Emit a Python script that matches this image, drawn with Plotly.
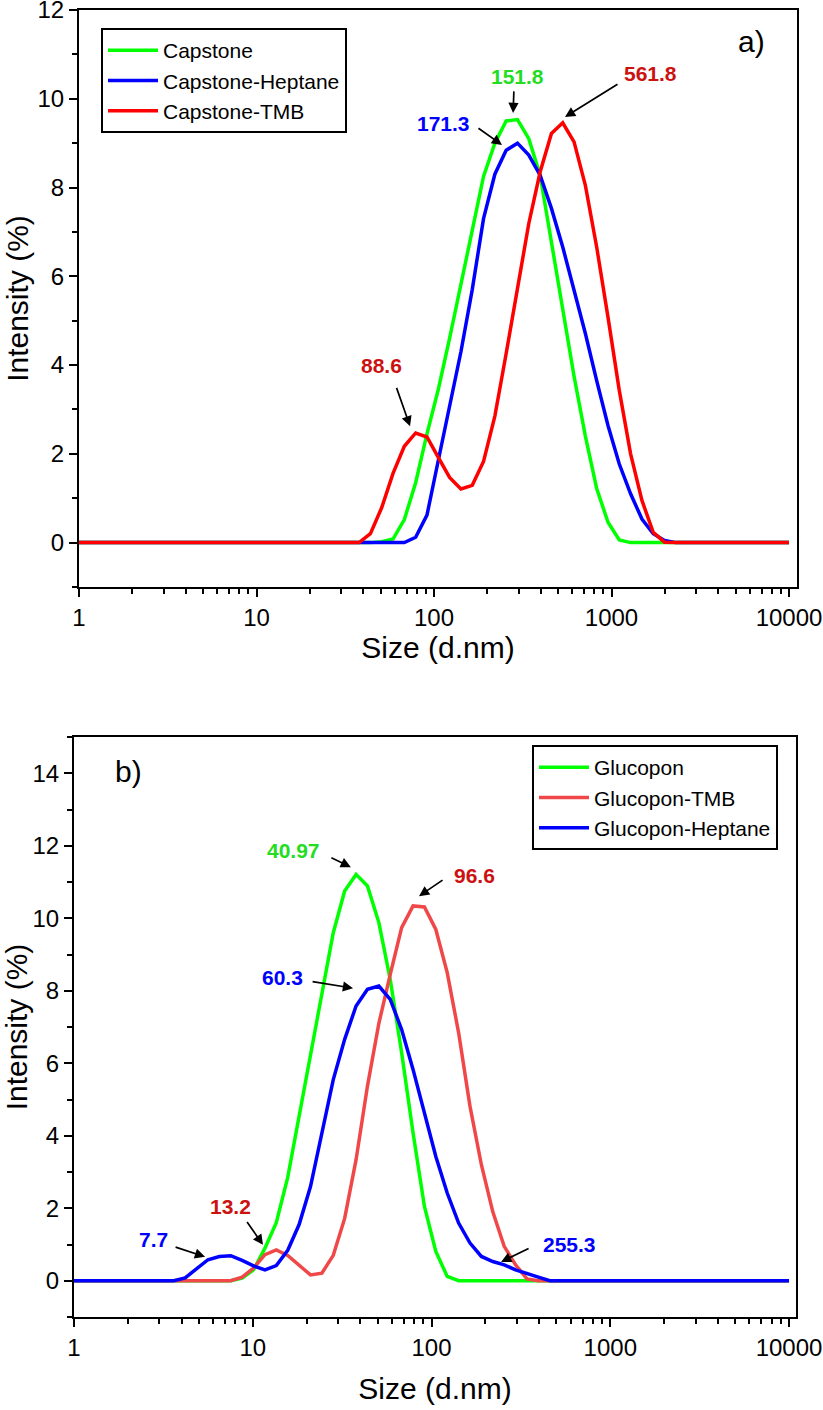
import numpy as np
import plotly.graph_objects as go

# DLS size classes (d.nm), Zetasizer bins
size_nm = [0.4, 0.4632, 0.5365, 0.6213, 0.7195, 0.8332, 0.9649, 1.117, 1.294, 1.499,
           1.736, 2.01, 2.328, 2.696, 3.122, 3.615, 4.187, 4.849, 5.615, 6.503,
           7.531, 8.721, 10.1, 11.7, 13.54, 15.69, 18.17, 21.04, 24.36, 28.21,
           32.67, 37.84, 43.82, 50.75, 58.77, 68.06, 78.82, 91.28, 105.7, 122.4,
           141.8, 164.2, 190.1, 220.2, 255.0, 295.3, 342.0, 396.1, 458.7, 531.2,
           615.1, 712.4, 825.0, 955.4, 1106, 1281, 1484, 1718, 1990, 2305,
           2669, 3091, 3580, 4145, 4801, 5560, 6439, 7456, 8635, 10000]

# panel a) intensity (%)
capstone = [0] * 33 + [0.02, 0.08, 0.52, 1.35, 2.45, 3.45, 4.6, 5.85, 7.05, 8.25, 9.0,
                       9.5, 9.53, 9.1, 8.28, 6.8, 5.25, 3.75, 2.4, 1.22, 0.46, 0.06] + [0] * 15
capstone_heptane = [0] * 35 + [0.0, 0.12, 0.62, 1.85, 3.05, 4.3, 5.7, 7.3, 8.3, 8.84, 9.0,
                               8.73, 8.28, 7.53, 6.66, 5.69, 4.71, 3.65, 2.64, 1.77, 1.1,
                               0.53, 0.2, 0.05] + [0] * 11
capstone_tmb = [0] * 32 + [0.2, 0.79, 1.56, 2.17, 2.47, 2.38, 1.92, 1.47, 1.21, 1.29, 1.83,
                           2.85, 4.26, 5.76, 7.19, 8.35, 9.22, 9.46, 9.03, 8.05, 6.66, 5.08,
                           3.43, 2.0, 0.95, 0.23, 0.01] + [0] * 11

# panel b) intensity (%)
glucopon = [0] * 21 + [0.07, 0.3, 0.9, 1.6, 2.85, 4.54, 6.29, 7.95, 9.6, 10.75, 11.21,
                       10.89, 9.88, 8.31, 6.29, 4.08, 2.05, 0.81, 0.12] + [0] * 30
glucopon_tmb = [0] * 21 + [0.1, 0.35, 0.72, 0.85, 0.7, 0.42, 0.16, 0.21, 0.7, 1.72, 3.34,
                           5.37, 7.1, 8.45, 9.74, 10.34, 10.31, 9.69, 8.5, 6.84, 4.81, 3.2,
                           1.9, 0.95, 0.44, 0.05] + [0] * 23
glucopon_heptane = [0] * 16 + [0.08, 0.33, 0.58, 0.67, 0.69, 0.56, 0.41, 0.3, 0.42, 0.84,
                               1.55, 2.6, 4.05, 5.55, 6.66, 7.58, 8.04, 8.13, 7.76, 6.93,
                               5.83, 4.63, 3.43, 2.42, 1.59, 1.04, 0.67, 0.53, 0.44, 0.3,
                               0.19, 0.1] + [0] * 22

x_tickvals = [1, 10, 100, 1000, 10000]
x_ticktext = ["1", "10", "100", "1000", "10000"]
y_ticks_a = [0, 2, 4, 6, 8, 10, 12]
y_ticks_b = [0, 2, 4, 6, 8, 10, 12, 14]

# peak labels: text, colour, text pos, arrow tail, arrow head (size nm, intensity %)
labels_a = [
    ("151.8", "#22DD22", (297, 10.51), (282, 10.2), (279, 9.68)),
    ("561.8", "#CC1111", (1648, 10.56), (1102, 10.35), (547, 9.59)),
    ("171.3", "#0000FF", (112.4, 9.45), (174.6, 9.36), (241.5, 8.96)),
    ("88.6", "#CC1111", (50.3, 3.99), (61.1, 3.52), (73.3, 2.62)),
]
labels_b = [
    ("40.97", "#22DD22", (16.8, 11.88), (27.0, 11.69), (35.4, 11.41)),
    ("96.6", "#CC1111", (175, 11.19), (117.5, 11.08), (85.1, 10.61)),
    ("60.3", "#0000FF", (14.6, 8.37), (21.2, 8.26), (36.4, 8.07)),
    ("13.2", "#CC1111", (7.55, 2.04), (9.17, 1.66), (11.41, 0.99)),
    ("7.7", "#0000FF", (2.80, 1.13), (3.63, 0.94), (5.41, 0.66)),
    ("255.3", "#0000FF", (588, 0.99), (356, 0.91), (245, 0.52)),
]

FONT = "Liberation Sans, Arial, sans-serif"
W, H = 823, 1410

fig = go.Figure()

series_a = [("Capstone", capstone, "#00FF00"),
            ("Capstone-Heptane", capstone_heptane, "#0000FF"),
            ("Capstone-TMB", capstone_tmb, "#FF0000")]
for name, vals, color in series_a:
    fig.add_trace(go.Scatter(x=size_nm, y=vals, name=name, mode="lines",
                             line=dict(color=color, width=3.5),
                             xaxis="x", yaxis="y", legend="legend"))

series_b = [("Glucopon", glucopon, "#00FF00"),
            ("Glucopon-TMB", glucopon_tmb, "#F04848"),
            ("Glucopon-Heptane", glucopon_heptane, "#0000FF")]
for name, vals, color in series_b:
    fig.add_trace(go.Scatter(x=size_nm, y=vals, name=name, mode="lines",
                             line=dict(color=color, width=3.5),
                             xaxis="x2", yaxis="y2", legend="legend2"))


def peak_notes(labels, xref, yref):
    notes = []
    for text, color, pos, tail, head in labels:
        notes.append(dict(x=np.log10(pos[0]), y=pos[1], xref=xref, yref=yref, text=text,
                          showarrow=False,
                          font=dict(family=FONT, size=21, color=color, weight="bold")))
        notes.append(dict(x=np.log10(head[0]), y=head[1], ax=np.log10(tail[0]), ay=tail[1],
                          xref=xref, yref=yref, axref=xref, ayref=yref, text="",
                          showarrow=True, arrowhead=2, arrowsize=1.2, arrowwidth=1.7,
                          arrowcolor="black", standoff=0, startstandoff=0))
    return notes


annotations = peak_notes(labels_a, "x", "y") + peak_notes(labels_b, "x2", "y2")
annotations.append(dict(x=np.log10(6110), y=11.28, xref="x", yref="y", text="a)",
                        showarrow=False, font=dict(family=FONT, size=30, color="black")))
annotations.append(dict(x=np.log10(2.03), y=14.06, xref="x2", yref="y2", text="b)",
                        showarrow=False, font=dict(family=FONT, size=30, color="black")))

axis_common = dict(showline=True, linewidth=2, linecolor="black", mirror=True,
                   ticks="outside", ticklen=8, tickwidth=2, tickcolor="black",
                   showgrid=False, zeroline=False, automargin=False,
                   ticklabeloverflow="allow",
                   tickfont=dict(family=FONT, size=24, color="black"),
                   title_font=dict(family=FONT, size=30, color="black"))
x_common = dict(axis_common, type="log", tickmode="array", tickvals=x_tickvals,
                ticktext=x_ticktext, title_text="Size (d.nm)",
                minor=dict(ticks="outside", ticklen=5, tickwidth=1.5, tickcolor="black",
                           dtick="D1", showgrid=False))
y_common = dict(axis_common, title_text="Intensity (%)", title_standoff=0,
                minor=dict(ticks="outside", ticklen=5, tickwidth=1.5, tickcolor="black",
                           dtick=1, showgrid=False))

legend_common = dict(bgcolor="rgba(0,0,0,0)", bordercolor="black", borderwidth=2,
                     font=dict(family=FONT, size=21, color="black"),
                     xanchor="left", yanchor="top", tracegroupgap=0, itemwidth=50)

fig.update_layout(
    width=W, height=H,
    margin=dict(l=0, r=0, t=0, b=0, autoexpand=False),
    paper_bgcolor="white", plot_bgcolor="white",
    xaxis=dict(x_common, domain=[79 / W, 797 / W], range=[0, 4.045], anchor="y",
               title_standoff=2),
    yaxis=dict(y_common, domain=[1 - 587 / H, 1 - 10 / H], range=[-1, 12],
               tickvals=y_ticks_a, tickmode="array", anchor="x"),
    xaxis2=dict(x_common, domain=[74 / W, 796 / W], range=[0, 4.039], anchor="y2",
                title_standoff=18),
    yaxis2=dict(y_common, domain=[1 - 1317 / H, 1 - 737 / H], range=[-1, 15],
                tickvals=y_ticks_b, tickmode="array", anchor="x2"),
    legend=dict(legend_common, x=101 / W, y=1 - 28 / H),
    legend2=dict(legend_common, x=532 / W, y=1 - 745 / H),
    annotations=annotations,
)

# drop the browser's default 8px page margin so the figure sits at the window origin
fig.write_html("out.html", config={"displayModeBar": False},
               post_script="document.body.style.margin = '0';")
